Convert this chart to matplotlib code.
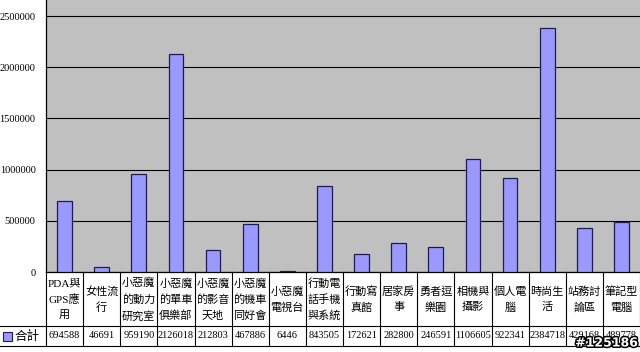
import numpy as np
import matplotlib.pyplot as plt
import matplotlib.transforms as mtransforms
from matplotlib.lines import Line2D
from matplotlib.patches import Rectangle
import matplotlib.patheffects as pe

# forum board names and their totals
categories = ['PDA與\nGPS應\n用', '女性流\n行', '小惡魔\n的動力\n研究室', '小惡魔\n的單車\n俱樂部',
              '小惡魔\n的影音\n天地', '小惡魔\n的機車\n同好會', '小惡魔\n電視台', '行動電\n話手機\n與系統',
              '行動寫\n真館', '居家房\n事', '勇者逗\n樂園', '相機與\n攝影', '個人電\n腦', '時尚生\n活',
              '站務討\n論區', '筆記型\n電腦']
totals = [694588, 46691, 959190, 2126018, 212803, 467886, 6446, 843505,
          172621, 282800, 246591, 1106605, 922341, 2384718, 429168, 489778]
series_name = '合計'
yticks = [0, 500000, 1000000, 1500000, 2000000, 2500000]

W, H = 640, 352
serif = ['Liberation Serif', 'Noto Sans CJK TC']
cjk = ['Noto Sans CJK TC', 'DejaVu Sans']

fig = plt.figure(figsize=(W / 100, H / 100), dpi=100)
fig.patch.set_facecolor('white')

# plot area in pixels: x 46..640, y 0..272
ax = fig.add_axes([46 / W, 1 - 272 / H, (W - 46) / W, 272 / H])
ax.set_facecolor('#C0C0C0')
x = np.arange(len(categories))
ax.bar(x, totals, width=0.4, color='#9999FF', edgecolor='#1C1C50', linewidth=0.9, zorder=3)

ax.set_xlim(-0.5, len(categories) - 0.5)
ax.set_ylim(0, 2656250)
ax.set_yticks(yticks)
ax.set_yticklabels([str(v) for v in yticks], family=serif, fontsize=7.5)
ax.tick_params(axis='y', length=0, pad=7.5)
ax.set_xticks([])
ax.grid(axis='y', color='black', linewidth=0.8, zorder=1)
for s in ['top', 'right']:
    ax.spines[s].set_visible(False)
for s in ['left', 'bottom']:
    ax.spines[s].set_color('black')
    ax.spines[s].set_linewidth(0.9)

# data table below the chart
blend = mtransforms.blended_transform_factory(ax.transData, fig.transFigure)
fy = lambda py: 1 - py / H
for k in range(len(categories) + 1):
    fig.add_artist(Line2D([k - 0.5, k - 0.5], [fy(272), fy(346)], transform=blend,
                          color='black', linewidth=0.8))
for py in [326, 346]:
    fig.add_artist(Line2D([0, 1], [fy(py), fy(py)], transform=fig.transFigure,
                          color='black', linewidth=0.8))

for i, (lab, v) in enumerate(zip(categories, totals)):
    fig.text(i, fy(299.5), lab, transform=blend, ha='center', va='center',
             family=serif, fontsize=8, linespacing=1.65)
    fig.text(i, fy(336), str(v), transform=blend, ha='center', va='center',
             family=serif, fontsize=7.5)

# legend key in the table's first column
fig.add_artist(Rectangle((3 / W, fy(341)), 9 / W, 9 / H, transform=fig.transFigure,
                         facecolor='#9999FF', edgecolor='#1C1C50', linewidth=0.8))
fig.text(15 / W, fy(336), series_name, family=cjk, fontsize=9, ha='left', va='center')

# watermark
fig.text(638 / W, fy(343), '#125186', ha='right', va='center', fontsize=9,
         fontweight='bold', color='white', family='DejaVu Sans',
         path_effects=[pe.withStroke(linewidth=2.2, foreground='black')])

fig.savefig('out.png', dpi=100)
